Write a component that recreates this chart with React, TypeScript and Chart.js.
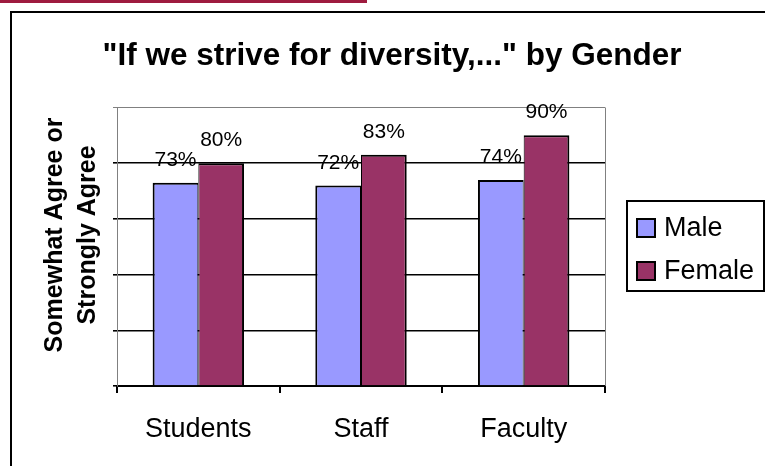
import React, { useEffect, useRef } from 'react';
import { Chart, registerables } from 'chart.js';

Chart.register(...registerables);

const categories = ['Students', 'Staff', 'Faculty'];
const seriesNames = ['Male', 'Female'];
const maleValues = [0.73, 0.72, 0.74];
const femaleValues = [0.8, 0.83, 0.9];
const seriesColors = ['#9999FF', '#993366'];
const titleText = '"If we strive for diversity,..." by Gender';
const yTitleLines = ['Somewhat Agree or', 'Strongly Agree'];

const FONT = "'Liberation Sans', Arial, Helvetica, sans-serif";

const decorPlugin = {
  id: 'decor',
  beforeDraw(chart: any) {
    const ctx = chart.ctx;
    ctx.save();
    ctx.fillStyle = '#ffffff';
    ctx.fillRect(0, 0, chart.width, chart.height);
    // red strip at top
    ctx.fillStyle = '#9e1b3f';
    ctx.fillRect(0, 0, 367, 3);
    // outer frame
    ctx.strokeStyle = '#000';
    ctx.lineWidth = 2;
    ctx.strokeRect(11, 12, chart.width + 20, chart.height + 20);
    // title
    ctx.fillStyle = '#000';
    ctx.font = `bold 31.5px ${FONT}`;
    ctx.textAlign = 'center';
    ctx.textBaseline = 'middle';
    ctx.fillText(titleText, 392, 56);
    // y-axis title (two lines, rotated)
    ctx.font = `bold 25px ${FONT}`;
    ctx.translate(55.5, 235);
    ctx.rotate(-Math.PI / 2);
    yTitleLines.forEach((line, i) => {
      ctx.fillText(line, 0, i * 32.5);
    });
    ctx.restore();
  },
  afterDatasetsDraw(chart: any) {
    const ctx = chart.ctx;
    const area = chart.chartArea;
    ctx.save();
    // gray right frame of plot area
    ctx.strokeStyle = '#808080';
    ctx.lineWidth = 1;
    ctx.beginPath();
    ctx.moveTo(area.right + 0.5, area.top);
    ctx.lineTo(area.right + 0.5, area.bottom);
    ctx.stroke();
    // data labels
    ctx.fillStyle = '#000';
    ctx.font = `21px ${FONT}`;
    ctx.textAlign = 'center';
    ctx.textBaseline = 'alphabetic';
    chart.data.datasets.forEach((ds: any, i: number) => {
      const meta = chart.getDatasetMeta(i);
      meta.data.forEach((el: any, j: number) => {
        const v = ds.data[j] as number;
        ctx.fillText(Math.round(v * 100) + '%', el.x, el.y - 17);
      });
    });
    ctx.restore();
  },
  afterDraw(chart: any) {
    const ctx = chart.ctx;
    ctx.save();
    // legend box
    const bx = 627, by = 201, bw = 137, bh = 90;
    ctx.strokeStyle = '#000';
    ctx.lineWidth = 2;
    ctx.strokeRect(bx, by, bw, bh);
    const rows = [228, 271];
    ctx.font = `27px ${FONT}`;
    ctx.textAlign = 'left';
    ctx.textBaseline = 'middle';
    chart.data.datasets.forEach((ds: any, i: number) => {
      const cy = rows[i];
      ctx.fillStyle = ds.backgroundColor;
      ctx.fillRect(637, cy - 9, 18, 18);
      ctx.strokeStyle = '#000';
      ctx.lineWidth = 2;
      ctx.strokeRect(637, cy - 9, 18, 18);
      ctx.fillStyle = '#000';
      ctx.fillText(ds.label, 664, cy + 1);
    });
    ctx.restore();
  },
};

export default function App() {
  const canvasRef = useRef<HTMLCanvasElement | null>(null);

  useEffect(() => {
    const canvas = canvasRef.current;
    if (!canvas) return;
    const chart = new Chart(canvas, {
      type: 'bar',
      data: {
        labels: categories,
        datasets: [
          {
            label: seriesNames[0],
            data: maleValues,
            backgroundColor: seriesColors[0],
            borderColor: '#000',
            borderWidth: { top: 2, left: 2, right: 1, bottom: 0 },
            borderSkipped: false,
          },
          {
            label: seriesNames[1],
            data: femaleValues,
            backgroundColor: seriesColors[1],
            borderColor: '#000',
            borderWidth: { top: 2, left: 1, right: 2, bottom: 0 },
            borderSkipped: false,
          },
        ],
      },
      options: {
        responsive: false,
        animation: false,
        events: [],
        layout: { padding: { left: 113, right: 160, top: 107.5, bottom: 0.5 } },
        datasets: { bar: { categoryPercentage: 0.562, barPercentage: 1 } },
        plugins: {
          legend: { display: false },
          title: { display: false },
          tooltip: { enabled: false },
        },
        scales: {
          x: {
            offset: true,
            border: { display: true, color: '#000', width: 2 },
            grid: {
              offset: true,
              drawOnChartArea: false,
              drawTicks: true,
              tickLength: 7,
              color: '#000',
              lineWidth: 2,
            },
            ticks: {
              color: '#000',
              padding: 20,
              font: { family: FONT, size: 27 },
            },
          },
          y: {
            min: 0,
            max: 1,
            border: { display: true, color: '#808080', width: 1 },
            grid: {
              drawTicks: true,
              tickLength: 4,
              color: (c: any) => (c.tick && c.tick.value >= 1 ? '#808080' : '#000'),
              lineWidth: (c: any) => (c.tick && c.tick.value >= 1 ? 1 : 1.6),
            },
            ticks: { display: false, stepSize: 0.2 },
            title: { display: false },
          },
        },
      },
      plugins: [decorPlugin],
    });
    return () => chart.destroy();
  }, []);

  return (
    <div style={{ position: 'fixed', left: 0, top: 0, width: 765, height: 466 }}>
      <canvas ref={canvasRef} width={765} height={466} />
    </div>
  );
}
